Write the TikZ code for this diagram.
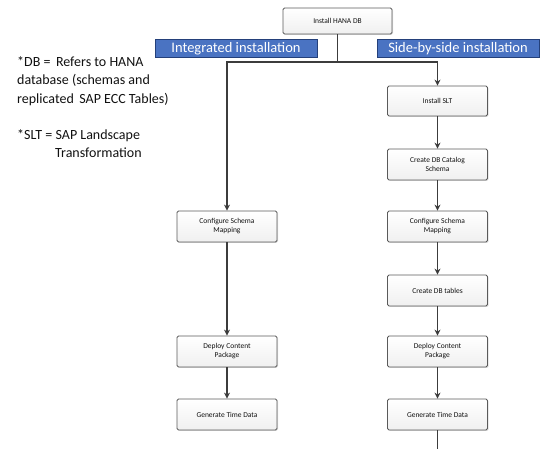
\documentclass[tikz,border=0pt]{standalone}
\usepackage{fontspec}
\setmainfont{Carlito}
\usetikzlibrary{arrows.meta,positioning,shadows}
\definecolor{boxline}{HTML}{5A5A5A}
\definecolor{flowline}{HTML}{3C3C3C}
\definecolor{tagblue}{HTML}{4A73C2}
\definecolor{tagedge}{HTML}{24407A}
\definecolor{ink}{HTML}{111111}
\tikzset{
  stepbox/.style={draw=boxline,line width=0.8pt,rounded corners=1.5pt,top color=white,bottom color=gray!12,
    minimum width=100pt,minimum height=31pt,align=center,font=\fontsize{7.5}{9}\selectfont,text=ink,
    drop shadow={shadow xshift=1pt,shadow yshift=-1pt,opacity=.25}},
  tagbox/.style={fill=tagblue,draw=tagedge,line width=1pt,minimum width=162pt,minimum height=18pt,
    text=white,font=\fontsize{14.5}{15}\selectfont,inner sep=0pt},
  flow/.style={flowline,line width=1.2pt},
  flowarrow/.style={flow,-{Stealth[length=6pt,width=6pt]}},
  note/.style={anchor=north west,align=left,inner sep=0pt,text=ink,font=\fontsize{14}{18.5}\selectfont}
}
\begin{document}
\begin{tikzpicture}[x=1pt,y=-1pt]
\useasboundingbox (0,0) rectangle (550,449);
% top step
\node[stepbox,minimum width=109pt,minimum height=26pt] (hana) at (337.5,21) {Install HANA DB};
\node[tagbox] (integrated) at (236,49) {Integrated installation};
\node[tagbox] (sidebyside) at (458,49) {Side-by-side installation};
% integrated column
\node[stepbox] (mapL) at (227,226.5) {Configure Schema\\Mapping};
\node[stepbox] (deployL) at (227,351.5) {Deploy Content\\Package};
\node[stepbox] (timeL) at (227,414.5) {Generate Time Data};
% side-by-side column
\node[stepbox,minimum height=30pt] (slt) at (437.5,101) {Install SLT};
\node[stepbox] (catalog) at (437.5,164.5) {Create DB Catalog\\Schema};
\node[stepbox] (mapR) at (437.5,226.5) {Configure Schema\\Mapping};
\node[stepbox] (tables) at (437.5,290.5) {Create DB tables};
\node[stepbox] (deployR) at (437.5,351.5) {Deploy Content\\Package};
\node[stepbox] (timeR) at (437.5,414.5) {Generate Time Data};
\coordinate (split) at (337.5,62);
\coordinate (more) at (437.5,449);
% connectors
\draw[flow] (hana) -- (split);
\draw[flowarrow] (split) -| (mapL);
\draw[flowarrow] (split) -| (slt);
\draw[flowarrow] (mapL) -- (deployL);
\draw[flowarrow] (deployL) -- (timeL);
\draw[flowarrow] (slt) -- (catalog);
\draw[flowarrow] (catalog) -- (mapR);
\draw[flowarrow] (mapR) -- (tables);
\draw[flowarrow] (tables) -- (deployR);
\draw[flowarrow] (deployR) -- (timeR);
\draw[flow] (timeR) -- (more);
% notes
\node[note] (dbnote) at (17,56) {*DB =\, Refers to HANA\\database (schemas and\\replicated\, SAP ECC Tables)};
\node[note] (sltnote) at (17,129) {*SLT = SAP Landscape\\\hspace*{38pt}Transformation};
\end{tikzpicture}
\end{document}
